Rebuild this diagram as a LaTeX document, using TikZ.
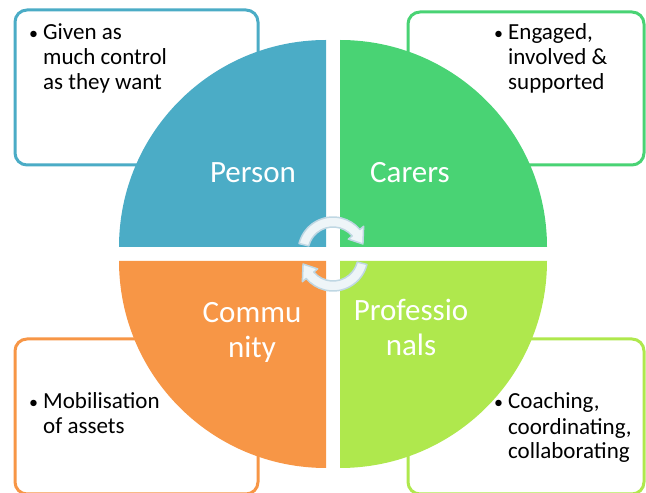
\documentclass[tikz,border=0pt]{standalone}
\usepackage{fontspec}
\setmainfont{Carlito}
\definecolor{personblue}{HTML}{4BACC6}
\definecolor{carergreen}{HTML}{49D374}
\definecolor{communityorange}{HTML}{F79646}
\definecolor{prolime}{HTML}{AFE84D}
\definecolor{arrowfill}{HTML}{EEF5F8}
\definecolor{arrowline}{HTML}{BFD7E3}
\newcommand{\itembullet}{\llap{{\fontsize{18}{18}\selectfont\textbullet}\hspace{5pt}}}
\begin{document}
\begin{tikzpicture}[x=1pt,y=1pt,
  boxframe/.style={line width=3pt, rounded corners=12pt, fill=white},
  bullettext/.style={anchor=base west, align=left, inner sep=0pt,
    font=\fontsize{23}{25}\selectfont, text=black},
  quadlabel/.style={anchor=base, align=center, inner sep=0pt,
    font=\fontsize{31}{35}\selectfont, text=white},
  cyclearrow/.style={fill=arrowfill, draw=arrowline, line width=1.5pt, line join=round}]
\useasboundingbox (0,0) rectangle (646,493);

% outer boxes, behind the circle
\draw[boxframe, draw=personblue]      (15,328)  rectangle (258,483);
\draw[boxframe, draw=carergreen]      (408,328) rectangle (644,481);
\draw[boxframe, draw=communityorange] (15,-1)   rectangle (258,154);
\draw[boxframe, draw=prolime]         (408,-1)  rectangle (644,154);

% box texts (anchored on the baseline of their last line)
\node[bullettext] (tPerson) at (43,403) {\itembullet Given as\\much control\\as they want};
\node[bullettext] (tCarers) at (508,403) {\itembullet Engaged,\\involved \&\\supported};
\node[bullettext] (tCommunity) at (43,59) {\itembullet Mobilisation\\of assets};
\node[bullettext] (tPro) at (508,34) {\itembullet Coaching,\\coordinating,\\collaborating};

% the four quadrants of the circle
\fill[personblue]      (326,246) -- ++(-207,0) arc[start angle=180, end angle=90,  radius=207pt] -- cycle;
\fill[carergreen]      (340,246) -- ++(0,207)  arc[start angle=90,  end angle=0,   radius=207pt] -- cycle;
\fill[communityorange] (326,232) -- ++(-207,0) arc[start angle=180, end angle=270, radius=207pt] -- cycle;
\fill[prolime]         (340,232) -- ++(207,0)  arc[start angle=0,   end angle=-90, radius=207pt] -- cycle;

% quadrant labels
\node[quadlabel] (lPerson) at (253,310) {Person};
\node[quadlabel] (lCarers) at (410,310) {Carers};
\node[quadlabel] (lCommunity) at (252,135) {Commu\\nity};
\node[quadlabel] (lPro) at (411,137) {Professio\\nals};

% circular arrows in the middle
\begin{scope}[shift={(333,241)}]
  \draw[cyclearrow] (166:35pt) arc[start angle=166, end angle=40, radius=35pt]
    -- (40:40pt) -- (15:31pt) -- (40:20pt) -- (40:25pt)
    arc[start angle=40, end angle=166, radius=25pt] -- cycle;
\end{scope}
\begin{scope}[shift={(333,237)}, rotate=180]
  \draw[cyclearrow] (166:35pt) arc[start angle=166, end angle=40, radius=35pt]
    -- (40:40pt) -- (15:31pt) -- (40:20pt) -- (40:25pt)
    arc[start angle=40, end angle=166, radius=25pt] -- cycle;
\end{scope}
\end{tikzpicture}
\end{document}
